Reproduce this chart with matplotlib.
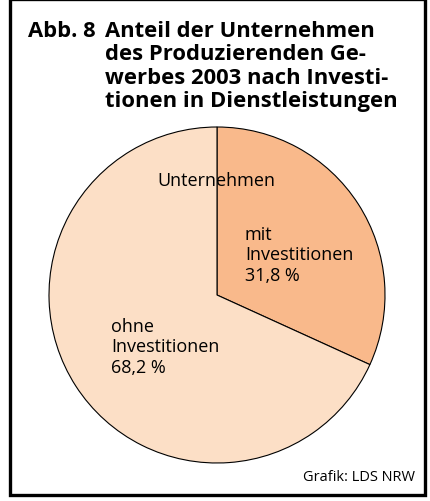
import matplotlib
matplotlib.use("Agg")
import matplotlib.pyplot as plt
from matplotlib.patches import Rectangle

W, H = 430, 501
DPI = 100

plt.rcParams["font.family"] = ["Open Sans", "DejaVu Sans"]

shares = [31.8, 68.2]
labels = [["mit", "Investitionen", "31,8 %"], ["ohne", "Investitionen", "68,2 %"]]
colors = ["#F9B98B", "#FCDFC6"]
title_num = "Abb. 8"
title_lines = ["Anteil der Unternehmen", "des Produzierenden Ge-",
               "werbes 2003 nach Investi-", "tionen in Dienstleistungen"]
center_label = "Unternehmen"
source = "Grafik: LDS NRW"

fig = plt.figure(figsize=(W / DPI, H / DPI), dpi=DPI)

def fx(x):
    return x / W

def fy(y):
    return 1 - y / H

# frame
fig.patches.append(Rectangle((fx(9.5), fy(494.5)), fx(424.5) - fx(9.5), fy(-1) - fy(494.5),
                             transform=fig.transFigure, fill=False, edgecolor="black",
                             linewidth=2.4))

# title
fig.text(fx(28), fy(37), title_num, fontsize=15.8, fontweight="bold", va="baseline")
for i, line in enumerate(title_lines):
    fig.text(fx(105), fy(37 + i * 23.3), line, fontsize=15.8, fontweight="bold", va="baseline")

# pie
cx, cy, r = 217, 295, 168
ax = fig.add_axes([fx(cx - r), fy(cy + r), (2 * r) / W, (2 * r) / H])
ax.pie(shares, colors=colors, startangle=90, counterclock=False,
       wedgeprops=dict(edgecolor="black", linewidth=0.8))
ax.set_xlim(-1, 1)
ax.set_ylim(-1, 1)
ax.set_aspect("auto")
ax.axis("off")

fig.text(fx(216), fy(186), center_label, fontsize=13, ha="center", va="baseline")
for (x0, y0), lines in zip([(245, 240), (111, 332)], labels):
    for j, line in enumerate(lines):
        fig.text(fx(x0), fy(y0 + j * 20.3), line, fontsize=13, va="baseline")

fig.text(fx(415), fy(481), source, fontsize=10.5, ha="right", va="baseline")

fig.savefig("out.png", dpi=DPI)
